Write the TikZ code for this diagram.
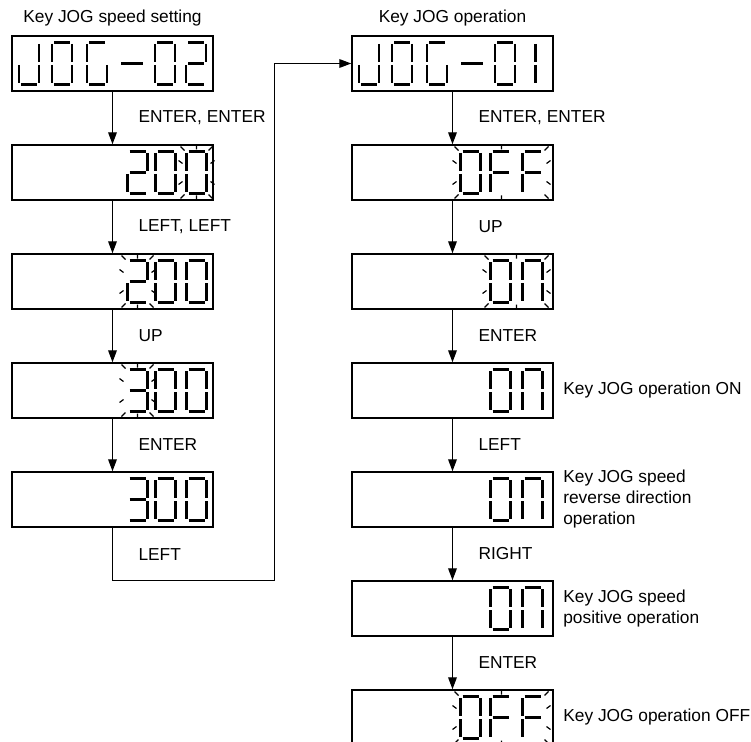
\documentclass[tikz,border=0pt]{standalone}
\usepackage{fontspec}
\setmainfont{Liberation Sans}
\usepackage{tikz}
\usetikzlibrary{arrows.meta,positioning,calc}

% seven-segment pieces, digit centre at (0,0), y pointing down
\newcommand{\SegA}{(-8,-21) -- (8,-21)}
\newcommand{\SegB}{(10,-19.5) -- (10,-1.5)}
\newcommand{\SegC}{(10,1.5) -- (10,19.5)}
\newcommand{\SegD}{(-8,21) -- (8,21)}
\newcommand{\SegE}{(-10,1.5) -- (-10,19.5)}
\newcommand{\SegF}{(-10,-19.5) -- (-10,-1.5)}
\newcommand{\SegG}{(-8,0) -- (8,0)}
\newcommand{\SegM}{(-11,0) -- (11,0)}
\newcommand{\SegU}{(0,-19.5) -- (0,-1.5)}
\newcommand{\SegW}{(0,1.5) -- (0,19.5)}

\newcommand{\segchar}[3]{%
  \foreach \sg in {#3}{%
    \expandafter\let\expandafter\segpath\csname Seg\sg\endcsname
    \draw[segline,shift={($(#1)+(#2,0)$)}] \segpath;}}

\newcommand{\blink}[3]{%
  \draw[blinkline]
    ($(#1)+(#2-2,-22)$) -- ++(-4,-4)
    ($(#1)+(#3+2,-22)$) -- ++(4,-4)
    ($(#1)+(#2-2,22)$) -- ++(-4,4)
    ($(#1)+(#3+2,22)$) -- ++(4,4)
    ($(#1)+({(#2+#3)/2},-23)$) -- ++(0,-5)
    ($(#1)+({(#2+#3)/2},23)$) -- ++(0,5)
    ($(#1)+(#2-4,-9)$) -- ++(-4,-3)
    ($(#1)+(#2-4,9)$) -- ++(-4,3)
    ($(#1)+(#3+4,-9)$) -- ++(4,-3)
    ($(#1)+(#3+4,9)$) -- ++(4,3);}

\begin{document}
\begin{tikzpicture}[
  x=0.75pt, y=-0.75pt,
  panel/.style={
    draw,
    line width=1.1pt,
    minimum width=150.75pt,
    minimum height=41.25pt,
    inner sep=0pt
  },
  segline/.style={line width=1.7pt},
  blinkline/.style={line width=0.9pt},
  arr/.style={-{Triangle[length=9pt,width=6.5pt]}, line width=1pt},
  lab/.style={anchor=west, xshift=19pt, inner sep=0pt},
  note/.style={align=left, inner sep=0pt},
  head/.style={inner sep=0pt},
  font=\fontsize{13}{15.75}\selectfont
]
\useasboundingbox (0,0) rectangle (751,742);
\clip (0,0) rectangle (751,742);

\node[panel] (set1) at (112.5,63.5) {};
\node[panel] (set2) at (112.5,172.5) {};
\node[panel] (set3) at (112.5,281.5) {};
\node[panel] (set4) at (112.5,390.5) {};
\node[panel] (set5) at (112.5,499.5) {};

\node[panel] (op1) at (452.5,63.5) {};
\node[panel] (op2) at (452.5,172.5) {};
\node[panel] (op3) at (452.5,281.5) {};
\node[panel] (op4) at (452.5,390.5) {};
\node[panel] (op5) at (452.5,499.5) {};
\node[panel] (op6) at (452.5,608.5) {};
\node[panel] (op7) at (452.5,717.5) {};

\node[head, above=7pt of set1] (sethead) {Key JOG speed setting};
\node[head, above=7pt of op1] (ophead) {Key JOG operation};

\node[note, right=7pt of op4] (onnote) {Key JOG operation ON};
\node[note, right=7pt of op5] (revnote) {Key JOG speed\\reverse direction\\operation};
\node[note, right=7pt of op6] (posnote) {Key JOG speed\\positive operation};
\node[note, right=7pt of op7] (offnote) {Key JOG operation OFF};

% JOG-02
\segchar{set1}{-83.5}{B,C,D,E}
\segchar{set1}{-50.5}{A,B,C,D,E,F}
\segchar{set1}{-15.5}{A,C,D,E,F}
\segchar{set1}{19.5}{M}
\segchar{set1}{52.5}{A,B,C,D,E,F}
\segchar{set1}{83.5}{A,B,G,E,D}

% 200 / 200 / 300 / 300
\segchar{set2}{25}{A,B,G,E,D}
\segchar{set2}{53}{A,B,C,D,E,F}
\segchar{set2}{84}{A,B,C,D,E,F}
\blink{set2}{74}{94}

\segchar{set3}{25}{A,B,G,E,D}
\segchar{set3}{53}{A,B,C,D,E,F}
\segchar{set3}{84}{A,B,C,D,E,F}
\blink{set3}{15}{35}

\segchar{set4}{25}{A,B,C,D,G}
\segchar{set4}{53}{A,B,C,D,E,F}
\segchar{set4}{84}{A,B,C,D,E,F}
\blink{set4}{15}{35}

\segchar{set5}{25}{A,B,C,D,G}
\segchar{set5}{53}{A,B,C,D,E,F}
\segchar{set5}{84}{A,B,C,D,E,F}

% JOG-01
\segchar{op1}{-83.5}{B,C,D,E}
\segchar{op1}{-50.5}{A,B,C,D,E,F}
\segchar{op1}{-15.5}{A,C,D,E,F}
\segchar{op1}{19.5}{M}
\segchar{op1}{52.5}{A,B,C,D,E,F}
\segchar{op1}{83}{U,W}

% OFF / ON
\segchar{op2}{18}{A,B,C,D,E,F}
\segchar{op2}{48}{A,E,F,G}
\segchar{op2}{80}{A,E,F,G}
\blink{op2}{8}{90}

\segchar{op3}{48}{A,B,C,D,E,F}
\segchar{op3}{80}{A,B,C,E,F}
\blink{op3}{38}{90}

\segchar{op4}{48}{A,B,C,D,E,F}
\segchar{op4}{80}{A,B,C,E,F}
\segchar{op5}{48}{A,B,C,D,E,F}
\segchar{op5}{80}{A,B,C,E,F}
\segchar{op6}{48}{A,B,C,D,E,F}
\segchar{op6}{80}{A,B,C,E,F}

\segchar{op7}{18}{A,B,C,D,E,F}
\segchar{op7}{48}{A,E,F,G}
\segchar{op7}{80}{A,E,F,G}
\blink{op7}{8}{90}

\draw[arr] (set1) -- node[lab]{ENTER, ENTER} (set2);
\draw[arr] (set2) -- node[lab]{LEFT, LEFT} (set3);
\draw[arr] (set3) -- node[lab]{UP} (set4);
\draw[arr] (set4) -- node[lab]{ENTER} (set5);
\draw[arr] (set5.south) -- node[lab]{LEFT} ++(0,53)
  -| ($(op1.west)+(-77,0)$) -- (op1.west);

\draw[arr] (op1) -- node[lab]{ENTER, ENTER} (op2);
\draw[arr] (op2) -- node[lab]{UP} (op3);
\draw[arr] (op3) -- node[lab]{ENTER} (op4);
\draw[arr] (op4) -- node[lab]{LEFT} (op5);
\draw[arr] (op5) -- node[lab]{RIGHT} (op6);
\draw[arr] (op6) -- node[lab]{ENTER} (op7);
\end{tikzpicture}
\end{document}
